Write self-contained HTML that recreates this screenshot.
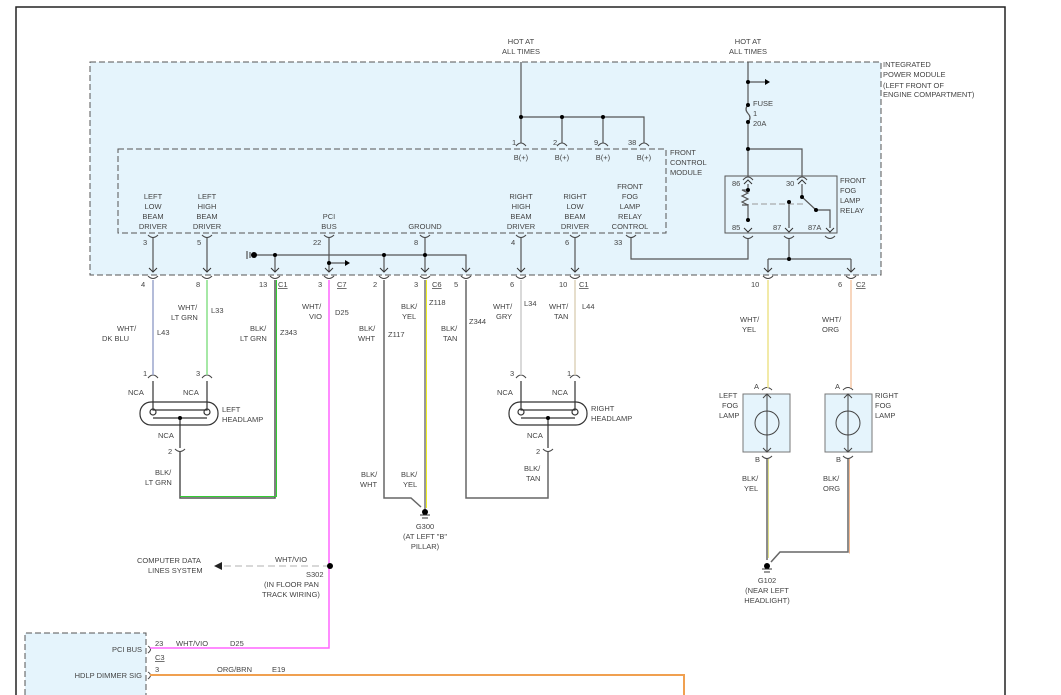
<!DOCTYPE html>
<html><head><meta charset="utf-8"><style>
html,body{margin:0;padding:0;background:#fff}
svg{display:block}
text{font-family:"Liberation Sans",sans-serif;font-size:7.5px;fill:#444}
</style></head><body>
<svg width="1061" height="695" viewBox="0 0 1061 695" xmlns="http://www.w3.org/2000/svg">
<!-- outer frame -->
<path d="M16,695 V7 H1005 V695" fill="none" stroke="#222" stroke-width="1.5"/>
<!-- IPM -->
<rect x="90" y="62" width="791" height="213" fill="#e5f4fc" stroke="#555" stroke-dasharray="6,3"/>
<rect x="118" y="149" width="548" height="84" fill="#e5f4fc" stroke="#555" stroke-dasharray="6,3"/>
<rect x="725" y="176" width="112" height="57" fill="#e5f4fc" stroke="#555"/>
<!-- PCI module bottom left -->
<path d="M25,695 V633 H146 V695" fill="#e5f4fc" stroke="#555" stroke-dasharray="6,3"/>

<g fill="none" stroke="#555" stroke-width="1.2">
<path d="M521,62 V143 M521,117 H644 V143 M562,117 V143 M603,117 V143"/>
<path d="M748,62 V105 M748,122 V176 M748,82 H765 M748,149 H802 V176"/>
<path d="M748,105 q-4,4 0,8.5 q4,4 0,8.5"/>
<path d="M748,184 V190 M748,204 V222 M802,184 V197 L816,210 H830 V228 M789,202 V228"/>
<path d="M748,190 h-6 l6,3 l-6,3 l6,3 l-6,3 l6,3 h-6" />
<path d="M752,204 H805" stroke="#999" stroke-dasharray="6,3" stroke-width="1"/>
<path d="M631,238 V259 H748 V238 M789,238 V259 M768,259 H851 M768,259 V272 M851,259 V272"/>
<path d="M153,238 V272 M207,238 V272 M329,238 V272 M425,238 V272 M521,238 V272 M575,238 V272"/>
<path d="M253,255 H466 V272 M275,255 V272 M384,255 V272 M329,263 H345"/>
<path d="M247,251 v8 M250,252 v6"/>
</g>
<g fill="#000">
<circle cx="521" cy="117" r="2"/><circle cx="562" cy="117" r="2"/><circle cx="603" cy="117" r="2"/>
<circle cx="748" cy="82" r="2"/><circle cx="748" cy="105" r="2"/><circle cx="748" cy="122" r="2"/><circle cx="748" cy="149" r="2"/>
<circle cx="748" cy="190" r="2"/><circle cx="748" cy="220" r="2"/><circle cx="802" cy="197" r="2"/><circle cx="816" cy="210" r="2"/><circle cx="789" cy="202" r="2"/>
<circle cx="789" cy="259" r="2"/>
<circle cx="254" cy="255" r="3"/><circle cx="275" cy="255" r="2"/><circle cx="384" cy="255" r="2"/><circle cx="425" cy="255" r="2"/><circle cx="329" cy="263" r="2"/>
<path d="M345,260 L350,263 L345,266Z M765,79 L770,82 L765,85Z"/>
</g>
<g fill="none" stroke="#444" stroke-width="1">
<path d="M516,146 q5,-6 10,0 M557,146 q5,-6 10,0 M598,146 q5,-6 10,0 M639,146 q5,-6 10,0"/>
<path d="M148,235 q5,5 10,0 M202,235 q5,5 10,0 M324,235 q5,5 10,0 M420,235 q5,5 10,0 M516,235 q5,5 10,0 M570,235 q5,5 10,0 M626,235 q5,5 10,0"/>
<path d="M148,276 q5,5 10,0 M202,276 q5,5 10,0 M270,276 q5,5 10,0 M324,276 q5,5 10,0 M379,276 q5,5 10,0 M420,276 q5,5 10,0 M461,276 q5,5 10,0 M516,276 q5,5 10,0 M570,276 q5,5 10,0 M763,276 q5,5 10,0 M846,276 q5,5 10,0"/>
<path d="M743,180 q5,-6 10,0 M797,180 q5,-6 10,0 M743,236 q5,5 10,0 M784,236 q5,5 10,0 M825,236 q5,5 10,0"/>
<path d="M148,378 q5,-6 10,0 M202,378 q5,-6 10,0 M516,378 q5,-6 10,0 M570,378 q5,-6 10,0 M175,449 q5,5 10,0 M543,449 q5,5 10,0"/>
<path d="M762,390 q5,-5 10,0 M843,390 q5,-5 10,0 M762,456 q5,5 10,0 M843,456 q5,5 10,0"/>
<path d="M148,646 q5,3 0,7 M148,672 q5,3 0,7"/>
</g>
<g stroke="#333" fill="none" stroke-width="1">
<path d="M149,268 l4,4 l4,-4 M203,268 l4,4 l4,-4 M271,268 l4,4 l4,-4 M325,268 l4,4 l4,-4 M380,268 l4,4 l4,-4 M421,268 l4,4 l4,-4 M462,268 l4,4 l4,-4 M517,268 l4,4 l4,-4 M571,268 l4,4 l4,-4 M764,268 l4,4 l4,-4 M847,268 l4,4 l4,-4"/>
<path d="M744,184 l4,-4 l4,4 M798,184 l4,-4 l4,4 M744,228 l4,4 l4,-4 M785,228 l4,4 l4,-4 M826,228 l4,4 l4,-4"/>
</g>
<g fill="none" stroke-width="1.5">
<path d="M153,280 V375" stroke="#9aa6cc"/>
<path d="M207,280 V375" stroke="#88e088"/>
<path d="M275,280 V498 H180 V452" stroke="#555"/>
<path d="M276.5,280 V496.5 H180" stroke="#3c3" stroke-width="1"/>
<path d="M329,280 V648 H150" stroke="#f6f"/>
<path d="M384,280 V498 H411 L421,507" stroke="#666"/>
<path d="M425,280 V510" stroke="#777"/>
<path d="M426.5,280 V508" stroke="#ee2" stroke-width="1"/>
<path d="M466,280 V498 H548 V452" stroke="#666"/>
<path d="M521,280 V375" stroke="#ccc"/>
<path d="M575,280 V375" stroke="#ddd3bb"/>
<path d="M768,280 V388" stroke="#eee28a"/>
<path d="M851,280 V388" stroke="#f4c9a8"/>
<path d="M767,459 V560" stroke="#666"/>
<path d="M768.5,459 V558" stroke="#dd8" stroke-width="1"/>
<path d="M848,459 V552 H780 L771,562" stroke="#666"/>
<path d="M849.5,459 V553.5" stroke="#f4b890" stroke-width="1"/>
<path d="M150,675 H684 V695" stroke="#f0a050" stroke-width="2"/>
<path d="M330,566 H222" stroke="#ccc" stroke-dasharray="7,4"/>
</g>
<path d="M214,566 L222,562 L222,570Z" fill="#222"/>
<circle cx="330" cy="566" r="3" fill="#000"/>
<g fill="none" stroke="#333" stroke-width="1.2">
<rect x="140" y="402" width="78" height="23" rx="11"/>
<path d="M153,381 V410 H207 V381 M153,418 H207 M180,418 V448"/>
<circle cx="153" cy="412" r="3"/><circle cx="207" cy="412" r="3"/>
<rect x="509" y="402" width="78" height="23" rx="11"/>
<path d="M521,381 V410 H575 V381 M521,418 H575 M548,418 V448"/>
<circle cx="521" cy="412" r="3"/><circle cx="575" cy="412" r="3"/>
</g>
<circle cx="180" cy="418" r="2" fill="#000"/><circle cx="548" cy="418" r="2" fill="#000"/>
<rect x="743" y="394" width="47" height="58" fill="#e5f4fc" stroke="#777"/>
<rect x="825" y="394" width="47" height="58" fill="#e5f4fc" stroke="#777"/>
<g fill="none" stroke="#444" stroke-width="1">
<path d="M767,394 V452 M763,398 l4,-4 l4,4 M763,448 l4,4 l4,-4"/><circle cx="767" cy="423" r="12"/>
<path d="M848,394 V452 M844,398 l4,-4 l4,4 M844,448 l4,4 l4,-4"/><circle cx="848" cy="423" r="12"/>
</g>
<g fill="#000"><circle cx="425" cy="512" r="3"/><circle cx="767" cy="566" r="3"/></g>
<g stroke="#333"><path d="M420,515 h10 M422,518 h6 M762,569 h10 M764,572 h6"/></g>

<g text-anchor="middle">
<text x="521" y="44">HOT AT</text><text x="521" y="54">ALL TIMES</text>
<text x="748" y="44">HOT AT</text><text x="748" y="54">ALL TIMES</text>
<text x="521" y="160">B(+)</text><text x="562" y="160">B(+)</text><text x="603" y="160">B(+)</text><text x="644" y="160">B(+)</text>
<text x="153" y="199">LEFT</text><text x="153" y="209">LOW</text><text x="153" y="219">BEAM</text><text x="153" y="229">DRIVER</text>
<text x="207" y="199">LEFT</text><text x="207" y="209">HIGH</text><text x="207" y="219">BEAM</text><text x="207" y="229">DRIVER</text>
<text x="329" y="219">PCI</text><text x="329" y="229">BUS</text>
<text x="425" y="229">GROUND</text>
<text x="521" y="199">RIGHT</text><text x="521" y="209">HIGH</text><text x="521" y="219">BEAM</text><text x="521" y="229">DRIVER</text>
<text x="575" y="199">RIGHT</text><text x="575" y="209">LOW</text><text x="575" y="219">BEAM</text><text x="575" y="229">DRIVER</text>
<text x="630" y="189">FRONT</text><text x="630" y="199">FOG</text><text x="630" y="209">LAMP</text><text x="630" y="219">RELAY</text><text x="630" y="229">CONTROL</text>
<text x="425" y="529">G300</text><text x="425" y="539">(AT LEFT "B"</text><text x="425" y="549">PILLAR)</text>
<text x="767" y="583">G102</text><text x="767" y="593">(NEAR LEFT</text><text x="767" y="603">HEADLIGHT)</text>
</g>
<g>
<text x="670" y="155">FRONT</text><text x="670" y="165">CONTROL</text><text x="670" y="175">MODULE</text>
<text x="883" y="67">INTEGRATED</text><text x="883" y="77">POWER MODULE</text><text x="883" y="88">(LEFT FRONT OF</text><text x="883" y="97">ENGINE COMPARTMENT)</text>
<text x="753" y="106">FUSE</text><text x="753" y="116">1</text><text x="753" y="126">20A</text>
<text x="840" y="183">FRONT</text><text x="840" y="193">FOG</text><text x="840" y="203">LAMP</text><text x="840" y="213">RELAY</text>
<text x="732" y="186">86</text><text x="786" y="186">30</text><text x="732" y="230">85</text><text x="773" y="230">87</text><text x="808" y="230">87A</text>
<text x="512" y="145">1</text><text x="553" y="145">2</text><text x="594" y="145">9</text><text x="628" y="145">38</text>
<text x="143" y="245">3</text><text x="197" y="245">5</text><text x="313" y="245">22</text><text x="414" y="245">8</text><text x="511" y="245">4</text><text x="565" y="245">6</text><text x="614" y="245">33</text>
<text x="141" y="287">4</text><text x="196" y="287">8</text><text x="259" y="287">13</text><text x="278" y="287" text-decoration="underline">C1</text>
<text x="318" y="287">3</text><text x="337" y="287" text-decoration="underline">C7</text>
<text x="373" y="287">2</text><text x="414" y="287">3</text><text x="432" y="287" text-decoration="underline">C6</text><text x="454" y="287">5</text>
<text x="510" y="287">6</text><text x="559" y="287">10</text><text x="579" y="287" text-decoration="underline">C1</text>
<text x="751" y="287">10</text><text x="838" y="287">6</text><text x="856" y="287" text-decoration="underline">C2</text>
<text x="117" y="331">WHT/</text><text x="102" y="341">DK BLU</text><text x="157" y="335">L43</text>
<text x="178" y="310">WHT/</text><text x="171" y="320">LT GRN</text><text x="211" y="313">L33</text>
<text x="250" y="331">BLK/</text><text x="240" y="341">LT GRN</text><text x="280" y="335">Z343</text>
<text x="302" y="309">WHT/</text><text x="309" y="319">VIO</text><text x="335" y="315">D25</text>
<text x="359" y="331">BLK/</text><text x="358" y="341">WHT</text><text x="388" y="337">Z117</text>
<text x="401" y="309">BLK/</text><text x="402" y="319">YEL</text><text x="429" y="305">Z118</text>
<text x="441" y="331">BLK/</text><text x="443" y="341">TAN</text><text x="469" y="324">Z344</text>
<text x="493" y="309">WHT/</text><text x="496" y="319">GRY</text><text x="524" y="306">L34</text>
<text x="549" y="309">WHT/</text><text x="554" y="319">TAN</text><text x="582" y="309">L44</text>
<text x="740" y="322">WHT/</text><text x="742" y="332">YEL</text>
<text x="822" y="322">WHT/</text><text x="822" y="332">ORG</text>
<text x="143" y="376">1</text><text x="196" y="376">3</text><text x="510" y="376">3</text><text x="567" y="376">1</text>
<text x="128" y="395">NCA</text><text x="183" y="395">NCA</text><text x="497" y="395">NCA</text><text x="552" y="395">NCA</text>
<text x="222" y="412">LEFT</text><text x="222" y="422">HEADLAMP</text>
<text x="591" y="411">RIGHT</text><text x="591" y="421">HEADLAMP</text>
<text x="158" y="438">NCA</text><text x="527" y="438">NCA</text>
<text x="168" y="454">2</text><text x="536" y="454">2</text>
<text x="155" y="475">BLK/</text><text x="145" y="485">LT GRN</text>
<text x="524" y="471">BLK/</text><text x="526" y="481">TAN</text>
<text x="361" y="477">BLK/</text><text x="360" y="487">WHT</text>
<text x="401" y="477">BLK/</text><text x="403" y="487">YEL</text>
<text x="754" y="389">A</text><text x="835" y="389">A</text><text x="755" y="462">B</text><text x="836" y="462">B</text>
<text x="719" y="398">LEFT</text><text x="722" y="408">FOG</text><text x="719" y="418">LAMP</text>
<text x="875" y="398">RIGHT</text><text x="875" y="408">FOG</text><text x="875" y="418">LAMP</text>
<text x="742" y="481">BLK/</text><text x="744" y="491">YEL</text>
<text x="823" y="481">BLK/</text><text x="823" y="491">ORG</text>
<text x="137" y="563">COMPUTER DATA</text><text x="148" y="573">LINES SYSTEM</text>
<text x="275" y="562">WHT/VIO</text>
<text x="306" y="577">S302</text><text x="264" y="587">(IN FLOOR PAN</text><text x="262" y="597">TRACK WIRING)</text>
<text x="155" y="646">23</text><text x="176" y="646">WHT/VIO</text><text x="230" y="646">D25</text>
<text x="155" y="660" text-decoration="underline">C3</text>
<text x="155" y="672">3</text><text x="217" y="672">ORG/BRN</text><text x="272" y="672">E19</text>
</g>
<g text-anchor="end"><text x="142" y="652">PCI BUS</text><text x="142" y="678">HDLP DIMMER SIG</text></g>
</svg>
</body></html>
